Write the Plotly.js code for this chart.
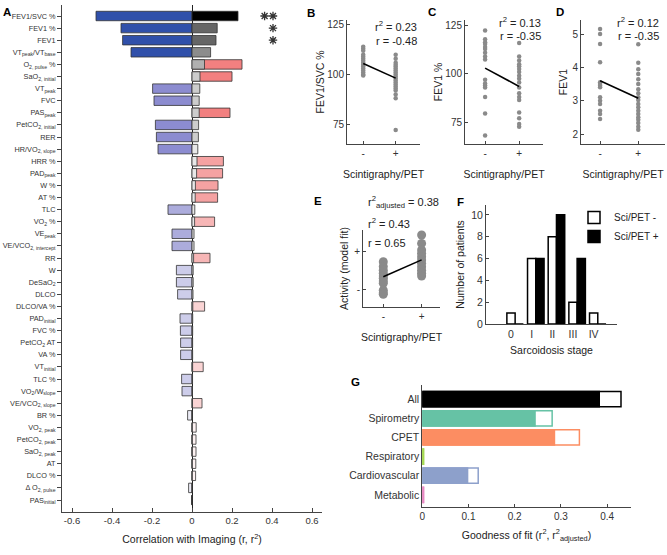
<!DOCTYPE html>
<html><head><meta charset="utf-8">
<script src="https://cdn.plot.ly/plotly-3.0.1.min.js"></script>
<style>html,body{margin:0;padding:0;background:#fff;}#chart{width:667px;height:555px;}</style>
</head><body><div id="chart"></div>
<script>
// ---------- Panel A data ----------
const measures = [
 'FEV1/SVC %','FEV1 %','FEV1','VT<sub>peak</sub>/VT<sub>base</sub>','O<sub>2, pulse</sub> %',
 'SaO<sub>2, initial</sub>','VT<sub>peak</sub>','FVC','PAS<sub>peak</sub>','PetCO<sub>2, initial</sub>',
 'RER','HR/VO<sub>2, slope</sub>','HRR %','PAD<sub>peak</sub>','W %',
 'AT %','TLC','VO<sub>2</sub> %','VE<sub>peak</sub>','VE/VCO<sub>2, intercept</sub>',
 'RR','W','DeSaO<sub>2</sub>','DLCO','DLCO/VA %',
 'PAD<sub>initial</sub>','FVC %','PetCO<sub>2</sub> AT','VA %','VT<sub>initial</sub>',
 'TLC %','VO<sub>2</sub>/W<sub>slope</sub>','VE/VCO<sub>2, slope</sub>','BR %','VO<sub>2, peak</sub>',
 'PetCO<sub>2, peak</sub>','SaO<sub>2, peak</sub>','AT','DLCO %','Δ O<sub>2, pulse</sub>',
 'PAS<sub>initial</sub>'];
const rValues = [
 -0.48,-0.355,-0.347,-0.305,0.25,
 0.20,-0.197,-0.19,0.19,-0.183,
 -0.178,-0.17,0.157,0.153,0.13,
 0.128,-0.12,0.113,-0.10,-0.10,
 0.09,-0.078,-0.078,-0.072,0.063,
 -0.06,-0.058,-0.057,-0.057,0.056,
 -0.052,-0.05,0.05,-0.022,0.021,
 0.02,0.02,0.019,0.018,-0.017,
 -0.002];
const r2Values = [
 0.23,0.126,0.12,0.093,0.0625,
 0.04,0.039,0.036,0.036,0.033,
 0.032,0.029,0.025,0.023,0.017,
 0.016,0.014,0.013,0.010,0.010,
 0.008,0.006,0.006,0.005,0.004,
 0.0036,0.0034,0.0032,0.0032,0.0031,
 0.0027,0.0025,0.0025,0.0005,0.0004,
 0.0004,0.0004,0.0004,0.0003,0.0003,
 0.0];
const starCounts = [2,1,1,0,0,0,0,0,0,0,0,0,0,0,0,0,0,0,0,0,0,0,0,0,0,0,0,0,0,0,0,0,0,0,0,0,0,0,0,0,0];

// ---------- Panels B-D data ----------
const groupLabels = ['-','+'];
const fev1svcNeg = [114,113,112,110,109,108,107,106,105,104,103,102,101,100,99.5];
const fev1svcPos = [110,108,106,105,104,103,102,101,100,99,98,97,96,95,94,93,92,90,88,72];
const fev1svcFit = [105.6,98.2];
const fev1pctNeg = [122.5,118,116.5,115.5,114,113,111,109,107.5,97,95,94,93,88,79.5,68];
const fev1pctPos = [116,109,107,105,104,102.5,101,99,97.5,95.5,93,90,88,86.5,80,77,74,72.5];
const fev1pctFit = [103,93.5];
const fev1Neg = [5.15,5.0,4.7,4.15,3.55,3.5,3.45,3.4,3.1,3.0,2.9,2.7,2.6,2.45];
const fev1Pos = [4.69,4.14,3.94,3.8,3.64,3.5,3.34,3.22,3.1,3.02,2.9,2.8,2.7,2.6,2.5,2.43,2.33,2.22,2.13];
const fev1Fit = [3.6,3.07];

// ---------- Panel E data ----------
const activityNeg = [0.72,0.6,0.5,0.42,0.35,0.29,0.22,0.16,-0.02,-0.09,-0.13];
const activityPos = [1.42,1.2,1.03,0.94,0.85,0.77,0.68,0.59,0.5,0.42,0.35];
const activityFit = [0.33,0.77];

// ---------- Panel F data ----------
const stages = ['0','I','II','III','IV'];
const sciPetNegCounts = [1,6,8,2,1];
const sciPetPosCounts = [0,6,10,6,0];

// ---------- Panel G data ----------
const modelGroups = ['All','Spirometry','CPET','Respiratory','Cardiovascular','Metabolic'];
const modelR2 = [0.43,0.281,0.34,0.003,0.121,0.003];
const modelR2Adj = [0.383,0.244,0.286,0.002,0.098,0.002];
const groupColors = ['#000000','#66c2a5','#fc8d62','#a6d854','#8da0cb','#e78ac3'];

// ---------- styling helpers ----------
function rColor(r){
  const a=Math.abs(r);
  if(r<0){
    if(a>=0.28) return 'rgb(48,80,170)';
    if(a>=0.15) return 'rgb(140,140,208)';
    if(a>=0.09) return 'rgb(172,172,220)';
    if(a>=0.04) return 'rgb(205,205,234)';
    return 'rgb(236,236,246)';
  } else {
    if(a>=0.18) return 'rgb(242,128,128)';
    if(a>=0.12) return 'rgb(245,162,162)';
    if(a>=0.08) return 'rgb(247,182,182)';
    if(a>=0.04) return 'rgb(250,212,212)';
    return 'rgb(253,242,242)';
  }
}
function r2Color(v){
  if(v>=0.2) return '#000000';
  if(v>=0.11) return '#666666';
  if(v>=0.08) return '#8c8c8c';
  if(v>=0.05) return '#b0b0b0';
  if(v>=0.03) return '#cccccc';
  return '#e8e8e8';
}

const FONT='Arial, "Liberation Sans", sans-serif';
const traces=[];

// Panel A
traces.push({type:'bar',orientation:'h',y:measures,x:rValues,xaxis:'x',yaxis:'y',width:0.78,
  marker:{color:rValues.map(rColor),line:{color:'#333',width:0.8}},showlegend:false});
traces.push({type:'bar',orientation:'h',y:measures,x:r2Values,xaxis:'x',yaxis:'y',width:0.78,
  marker:{color:r2Values.map(r2Color),line:{color:'#333',width:0.8}},showlegend:false});
const starX=[],starY=[];
starCounts.forEach((n,i)=>{for(let k=0;k<n;k++){starX.push(0.405-k*0.042);starY.push(measures[i]);}});
traces.push({type:'scatter',mode:'markers',x:starX,y:starY,xaxis:'x',yaxis:'y',
  marker:{symbol:'asterisk-open',size:7,color:'#333',line:{color:'#333',width:1.3}},showlegend:false,cliponaxis:false});

// helper for strip plots
function strip(neg,pos,fit,ax,size){
  const xs=[],ys=[];
  neg.forEach(v=>{xs.push(1);ys.push(v);});
  pos.forEach(v=>{xs.push(2);ys.push(v);});
  traces.push({type:'scatter',mode:'markers',x:xs,y:ys,xaxis:'x'+ax,yaxis:'y'+ax,
    marker:{color:'#8a8a8a',size:size},showlegend:false,cliponaxis:false});
  traces.push({type:'scatter',mode:'lines',x:[1,2],y:fit,xaxis:'x'+ax,yaxis:'y'+ax,
    line:{color:'#000',width:1.6},showlegend:false});
}
strip(fev1svcNeg,fev1svcPos,fev1svcFit,2,4.5);
strip(fev1pctNeg,fev1pctPos,fev1pctFit,3,4.5);
strip(fev1Neg,fev1Pos,fev1Fit,4,4.5);
strip(activityNeg,activityPos,activityFit,5,9);

// Panel F
traces.push({type:'bar',x:[0,1,2,3,4],y:sciPetNegCounts,xaxis:'x6',yaxis:'y6',name:'Sci/PET -',
  offset:-0.2,width:0.4,marker:{color:'#fff',line:{color:'#000',width:1.5}}});
traces.push({type:'bar',x:[0,1,2,3,4],y:sciPetPosCounts,xaxis:'x6',yaxis:'y6',name:'Sci/PET +',
  offset:0.2,width:0.4,marker:{color:'#000',line:{color:'#000',width:1.5}}});

// Panel G
traces.push({type:'bar',orientation:'h',y:modelGroups,x:modelR2,xaxis:'x7',yaxis:'y7',width:0.8,
  marker:{color:'#fff',line:{color:groupColors,width:1.5}},showlegend:false});
traces.push({type:'bar',orientation:'h',y:modelGroups,x:modelR2Adj,xaxis:'x7',yaxis:'y7',width:0.8,
  marker:{color:groupColors,line:{color:groupColors,width:1.5}},showlegend:false});

const P=(px)=>px/667, Q=(py)=>1-py/555;
const baseAx={showgrid:false,zeroline:false,showline:true,linecolor:'#444',linewidth:1,
  ticks:'inside',ticklen:3,tickcolor:'#444',tickfont:{size:10,color:'#333'},fixedrange:true,automargin:false};
function ax(o){return Object.assign({},baseAx,o);}

const stripX=(dom,range,anchor)=>ax({domain:dom,range:range,tickvals:[1,2],ticktext:groupLabels,anchor:anchor,
  title:{text:'Scintigraphy/PET',font:{size:10.5,color:'#222'},standoff:12}});

const layout={
  width:667,height:555,margin:{l:0,r:0,t:0,b:0,autoexpand:false},paper_bgcolor:'#fff',plot_bgcolor:'rgba(0,0,0,0)',
  font:{family:FONT,color:'#222'},barmode:'overlay',
  showlegend:true,
  legend:{x:P(574),y:Q(203),xanchor:'left',yanchor:'top',bgcolor:'rgba(0,0,0,0)',font:{size:10},
    tracegroupgap:0,itemwidth:30,traceorder:'normal'},
  xaxis:ax({domain:[P(62),P(322)],range:[-0.65,0.65],tickvals:[-0.6,-0.4,-0.2,0,0.2,0.4,0.6],
    ticktext:['-0.6','-0.4','-0.2','0','0.2','0.4','0.6'],ticklen:4,anchor:'y',
    zeroline:true,zerolinecolor:'#222',zerolinewidth:1,tickfont:{size:9.5,color:'#333'},
    title:{text:'Correlation with Imaging (r, r<sup>2</sup>)',font:{size:10.5,color:'#222'},standoff:10}}),
  yaxis:ax({domain:[Q(512),Q(5)],type:'category',range:[40.99,-0.91],ticks:'outside',ticklen:4,
    tickfont:{size:7.3,color:'#333'},anchor:'x'}),
  xaxis2:stripX([P(347),P(420)],[0.5,2.75],'y2'),
  yaxis2:ax({domain:[Q(144),Q(20)],range:[65,127.5],tickvals:[75,100,125],anchor:'x2',
    title:{text:'FEV1/SVC %',font:{size:10.5,color:'#222'},standoff:0}}),
  xaxis3:stripX([P(465),P(543)],[0.41,2.7],'y3'),
  yaxis3:ax({domain:[Q(144),Q(20)],range:[63.6,128],tickvals:[75,100,125],anchor:'x3',
    title:{text:'FEV1 %',font:{size:10.5,color:'#222'},standoff:0}}),
  xaxis4:stripX([P(581),P(665)],[0.5,2.7],'y4'),
  yaxis4:ax({domain:[Q(144),Q(20)],range:[1.7,5.42],tickvals:[2,3,4,5],anchor:'x4',
    title:{text:'FEV1',font:{size:10.5,color:'#222'},standoff:2}}),
  xaxis5:stripX([P(363),P(440)],[0.47,2.48],'y5'),
  yaxis5:ax({domain:[Q(307),Q(230)],range:[-0.46,1.55],tickvals:[0,1],ticktext:['-','+'],anchor:'x5',
    title:{text:'Activity (model fit)',font:{size:10.5,color:'#222'},standoff:3}}),
  xaxis6:ax({domain:[P(486),P(617)],range:[-1.21,5.13],tickvals:[0,1,2,3,4],ticktext:stages,ticks:'',anchor:'y6',
    tickfont:{size:10.5,color:'#333'},
    title:{text:'Sarcoidosis stage',font:{size:10.5,color:'#222'},standoff:8}}),
  yaxis6:ax({domain:[Q(324),Q(205)],range:[0,10.9],tickvals:[0,2,4,6,8,10],anchor:'x6',
    tickfont:{size:10.5,color:'#333'},
    title:{text:'Number of patients',font:{size:10.5,color:'#222'},standoff:4}}),
  xaxis7:ax({domain:[P(422.3),P(630.7)],range:[0,0.451],tickvals:[0,0.1,0.2,0.3,0.4],anchor:'y7',
    title:{text:'Goodness of fit (r<sup>2</sup>, r<sup>2</sup><sub>adjusted</sub>)',font:{size:10.5,color:'#222'},standoff:10}}),
  yaxis7:ax({domain:[Q(506.7),Q(385)],type:'category',range:[5.62,-0.74],ticks:'',anchor:'x7',
    tickfont:{size:10.5,color:'#333'}}),
  annotations:[]
};
const ann=layout.annotations;
function lab(t,x,y){ann.push({text:'<b>'+t+'</b>',x:P(x),y:Q(y),xref:'paper',yref:'paper',showarrow:false,
  xanchor:'center',yanchor:'middle',font:{size:11.5,color:'#000'}});}
lab('A',7,12);lab('B',311,13);lab('C',432,12);lab('D',560,12);lab('E',318,201);lab('F',460,202);lab('G',355,382);
function txt(t,x,y,anchor){ann.push({text:t,x:P(x),y:Q(y),xref:'paper',yref:'paper',showarrow:false,
  xanchor:anchor||'right',yanchor:'middle',font:{size:11,color:'#222'}});}
txt('r<sup>2</sup> = 0.23',419,26);txt('r = -0.48',419,41);
txt('r<sup>2</sup> = 0.13',543,22);txt('r = -0.35',543,36);
txt('r<sup>2</sup> = 0.12',661,22);txt('r = -0.35',661,36);
txt('r<sup>2</sup><sub>adjusted</sub> = 0.38',366,202,'left');
txt('r<sup>2</sup> = 0.43',366,223,'left');
txt('r = 0.65',366,243,'left');

Plotly.newPlot('chart',traces,layout,{staticPlot:true,displayModeBar:false});
</script></body></html>
